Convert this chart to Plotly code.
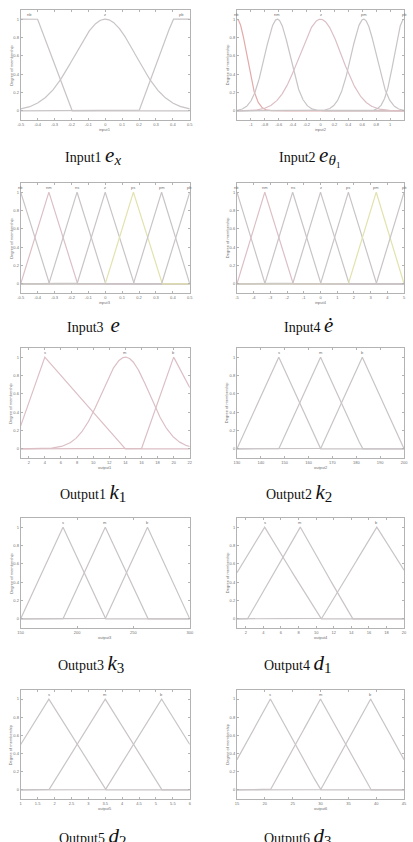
import numpy as np
import plotly.graph_objects as go

W, H = 413, 842

# ---------------- data ----------------
X_TITLES = ["input1", "input2", "input3", "input4", "output1",
            "output2", "output3", "output4", "output5", "output6"]

X_RANGES = [[-0.5, 0.5], [-1.2, 1.2], [-0.5, 0.5], [-5, 5], [1, 22],
            [130, 200], [150, 300], [1, 20], [1, 6], [15, 45]]

X_TICKS = [
    [-0.5, -0.4, -0.3, -0.2, -0.1, 0, 0.1, 0.2, 0.3, 0.4, 0.5],
    [-1, -0.8, -0.6, -0.4, -0.2, 0, 0.2, 0.4, 0.6, 0.8, 1],
    [-0.5, -0.4, -0.3, -0.2, -0.1, 0, 0.1, 0.2, 0.3, 0.4, 0.5],
    [-5, -4, -3, -2, -1, 0, 1, 2, 3, 4, 5],
    [2, 4, 6, 8, 10, 12, 14, 16, 18, 20, 22],
    [130, 140, 150, 160, 170, 180, 190, 200],
    [150, 200, 250, 300],
    [2, 4, 6, 8, 10, 12, 14, 16, 18, 20],
    [1, 1.5, 2, 2.5, 3, 3.5, 4, 4.5, 5, 5.5, 6],
    [15, 20, 25, 30, 35, 40, 45],
]

Y_TICKS = [0, 0.2, 0.4, 0.6, 0.8, 1]

MF_NAMES = [
    ["nb", "z", "pb"],
    ["nb", "nm", "z", "pm", "pb"],
    ["nb", "nm", "ns", "z", "ps", "pm", "pb"],
    ["nb", "nm", "ns", "z", "ps", "pm", "pb"],
    ["s", "m", "b"],
    ["s", "m", "b"],
    ["s", "m", "b"],
    ["s", "m", "b"],
    ["s", "m", "b"],
    ["s", "m", "b"],
]

MF_TYPES = [
    ["trap", "gauss", "trap"],
    ["gauss", "gauss", "gauss", "gauss", "gauss"],
    ["tri"] * 7,
    ["tri"] * 7,
    ["tri", "gauss", "tri"],
    ["tri"] * 3,
    ["tri"] * 3,
    ["tri"] * 3,
    ["tri"] * 3,
    ["tri"] * 3,
]

# trap: [a,b,c,d]; tri: [a,b,c]; gauss: [sigma, center]
MF_PARAMS = [
    [[-0.6, -0.5, -0.4, -0.2], [0.18, 0.0], [0.2, 0.4, 0.5, 0.6]],
    [[0.14, -1.2], [0.18, -0.62], [0.30, 0.0], [0.18, 0.62], [0.14, 1.2]],
    [[-0.6667, -0.5, -0.3333], [-0.5, -0.3333, -0.1667], [-0.3333, -0.1667, 0.0],
     [-0.1667, 0.0, 0.1667], [0.0, 0.1667, 0.3333], [0.1667, 0.3333, 0.5],
     [0.3333, 0.5, 0.6667]],
    [[-6.667, -5.0, -3.333], [-5.0, -3.333, -1.667], [-3.333, -1.667, 0.0],
     [-1.667, 0.0, 1.667], [0.0, 1.667, 3.333], [1.667, 3.333, 5.0],
     [3.333, 5.0, 6.667]],
    [[0.0, 4.0, 14.0], [2.95, 14.0], [16.0, 20.0, 26.0]],
    [[130.0, 147.5, 165.0], [147.5, 165.0, 182.5], [165.0, 182.5, 200.0]],
    [[150.0, 187.5, 225.0], [187.5, 225.0, 262.5], [225.0, 262.5, 300.0]],
    [[-2.2, 4.15, 10.5], [2.2, 8.2, 14.1], [10.6, 16.9, 23.5]],
    [[0.1667, 1.8333, 3.5], [1.8333, 3.5, 5.1667], [3.5, 5.1667, 6.8333]],
    [[12.0, 21.0, 30.0], [21.0, 30.0, 39.0], [30.0, 39.0, 48.0]],
]

CAPTIONS = [
    ("Input1", "e", "<i>x</i>"),
    ("Input2", "e", "<i>θ</i>₁"),
    ("Input3 ", "e", ""),
    ("Input4", "ė", ""),
    ("Output1", "k", "1"),
    ("Output2", "k", "2"),
    ("Output3", "k", "3"),
    ("Output4", "d", "1"),
    ("Output5", "d", "2"),
    ("Output6", "d", "3"),
]

# ---------------- styling / layout ----------------
GRAY = "#c9c4c6"
PINK = "#dcbfc5"
RED = "#e4aaaa"
YEL = "#e2e2ad"
MF_COLORS = [
    [GRAY, GRAY, GRAY],
    [RED, GRAY, PINK, GRAY, GRAY],
    [GRAY, PINK, GRAY, GRAY, YEL, GRAY, GRAY],
    [GRAY, PINK, GRAY, GRAY, GRAY, YEL, GRAY],
    [PINK, PINK, PINK],
    [GRAY, GRAY, GRAY],
    [GRAY, GRAY, GRAY],
    [GRAY, GRAY, GRAY],
    [GRAY, GRAY, GRAY],
    [GRAY, GRAY, GRAY],
]

COL_X = [(18, 190), (238, 408)]
ROW_Y = [(10, 120), (183, 293), (348, 458), (518, 628), (690, 799)]
CAP_X = [92, 312, 92, 311, 92, 301, 90, 300, 91, 300]
CAP_Y = [156, 325, 493, 663, 836]

FRAME = "#b3b3b3"
SANS = "Liberation Sans, Arial, sans-serif"
TICKFONT = dict(family=SANS, size=4, color="#707070")


def mf_eval(kind, p, x):
    if kind == "gauss":
        s, c = p
        return np.exp(-((x - c) ** 2) / (2 * s * s))
    if kind == "tri":
        a, b, c = p
        p = [a, b, b, c]
    a, b, c, d = p
    left = np.where(x < b, (x - a) / (b - a) if b > a else 1.0, 1.0)
    right = np.where(x > c, (d - x) / (d - c) if d > c else 1.0, 1.0)
    return np.clip(np.minimum(left, right), 0, 1)


def mf_peak(kind, p):
    if kind in ("gauss", "tri"):
        return p[1]
    return (p[1] + p[2]) / 2


def fmt(v):
    return "%g" % v


fig = go.Figure()
annotations = []
layout_axes = {}

for i in range(10):
    row, col = divmod(i, 2)
    x0, x1 = COL_X[col]
    yt, yb = ROW_Y[row]
    ax = "" if i == 0 else str(i + 1)
    xa, ya = "x" + ax, "y" + ax
    lo, hi = X_RANGES[i]

    for name, kind, p, color in zip(MF_NAMES[i], MF_TYPES[i], MF_PARAMS[i], MF_COLORS[i]):
        extra = [v for v in (p if kind != "gauss" else []) if lo <= v <= hi]
        xs = np.unique(np.concatenate([np.linspace(lo, hi, 500), np.array(extra, dtype=float)]))
        ys = mf_eval(kind, p, xs)
        fig.add_trace(go.Scatter(x=xs, y=ys, mode="lines", xaxis=xa, yaxis=ya,
                                 line=dict(color=color, width=1.2),
                                 showlegend=False, hoverinfo="skip"))
        px = min(max(mf_peak(kind, p), lo), hi)
        annotations.append(dict(x=px, y=1.05, xref=xa, yref=ya, text=name,
                                showarrow=False, font=dict(family=SANS, size=4, color="#707070"),
                                xanchor="center", yanchor="middle"))

    common = dict(showline=True, linecolor=FRAME, linewidth=1, mirror="ticks",
                  ticks="inside", ticklen=2, tickcolor=FRAME, showgrid=False,
                  zeroline=False, tickfont=TICKFONT, fixedrange=True)
    layout_axes["xaxis" + ax] = dict(
        domain=[x0 / W, x1 / W], range=[lo, hi], anchor=ya,
        tickvals=X_TICKS[i], ticktext=[fmt(v) for v in X_TICKS[i]], **common)
    layout_axes["yaxis" + ax] = dict(
        domain=[1 - yb / H, 1 - yt / H], range=[-0.1, 1.1], anchor=xa,
        tickvals=Y_TICKS, ticktext=[fmt(v) for v in Y_TICKS], **common)

    # axis titles
    annotations.append(dict(x=(x0 + x1) / 2 / W, y=1 - (yb + 9.5) / H, xref="paper", yref="paper",
                            text=X_TITLES[i], showarrow=False,
                            font=dict(family=SANS, size=4, color="#707070"),
                            xanchor="center", yanchor="middle"))
    annotations.append(dict(x=(x0 - 10) / W, y=1 - (yt + yb) / 2 / H, xref="paper", yref="paper",
                            text="Degree of membership", textangle=-90, showarrow=False,
                            font=dict(family=SANS, size=4, color="#707070"),
                            xanchor="center", yanchor="middle"))

    # caption
    word, sym, sub = CAPTIONS[i]
    txt = (word + ' <span style="font-size:21px;font-family:Liberation Serif"><i>'
           + sym + '</i></span>')
    if sub:
        txt += ('<sub><span style="font-size:15px;font-family:Liberation Serif">'
                + sub + '</span></sub>')
    annotations.append(dict(x=CAP_X[i] / W, y=1 - CAP_Y[row] / H, xref="paper", yref="paper",
                            text=txt, showarrow=False,
                            font=dict(family="Liberation Serif, Times New Roman, serif",
                                      size=14, color="#111"),
                            xanchor="center", yanchor="middle"))

fig.update_layout(width=W, height=H, margin=dict(l=0, r=0, t=0, b=0),
                  paper_bgcolor="white", plot_bgcolor="white",
                  annotations=annotations, **layout_axes)

fig.write_html("out.html", config={"displayModeBar": False})
